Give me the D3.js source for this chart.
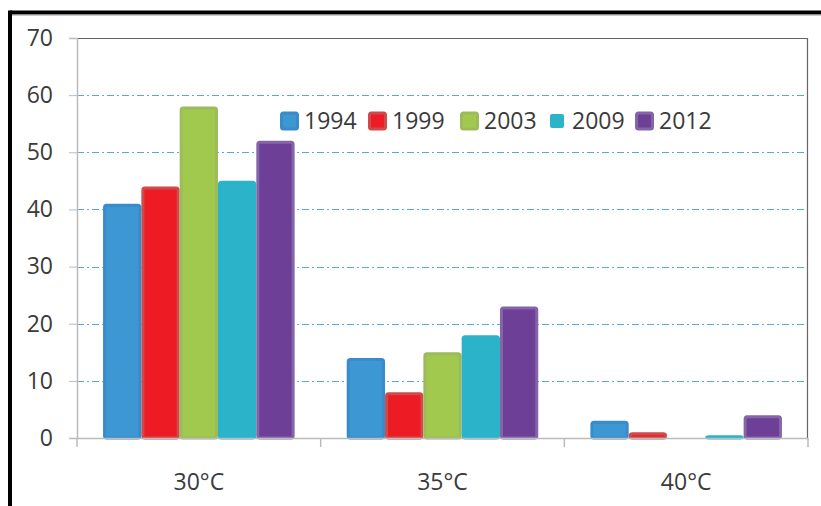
<!DOCTYPE html>
<html>
<head>
<meta charset="utf-8">
<script src="https://cdn.jsdelivr.net/npm/d3@7"></script>
<style>
  body { margin: 0; background: #fff; }
  svg { display: block; }
  svg text { font-family: "Open Sans", sans-serif; }
</style>
</head>
<body>
<div id="chart"></div>
<script>
// data
const categories = ["30°C", "35°C", "40°C"];
const years = ["1994", "1999", "2003", "2009", "2012"];
const values1994 = [41, 14, 3];
const values1999 = [44, 8, 1];
const values2003 = [58, 15, 0];
const values2009 = [45, 18, 0.5];
const values2012 = [52, 23, 4];
const yTicks = [0, 10, 20, 30, 40, 50, 60, 70];

const series = [values1994, values1999, values2003, values2009, values2012];
const fills = ["#3d97d3", "#ed1c24", "#a0c94e", "#2bb3ca", "#6d3f97"];
const strokes = ["#3a8bcc", "#cf4a4a", "#9dbb5a", "#2bb3ca", "#8466a8"];

const W = 821, H = 506;
const margin = { top: 38, right: 13, bottom: 68, left: 77 };
const width = W - margin.left - margin.right;
const height = H - margin.top - margin.bottom;

const svg = d3.select("#chart").append("svg")
  .attr("width", W).attr("height", H);

// outer frame
svg.append("line").attr("x1", 10).attr("x2", W).attr("y1", 12.5).attr("y2", 12.5)
  .attr("stroke", "#000").attr("stroke-width", 4);
svg.append("line").attr("x1", 10).attr("x2", W).attr("y1", 15).attr("y2", 15)
  .attr("stroke", "#999").attr("stroke-width", 1);
svg.append("line").attr("x1", 10).attr("x2", 10).attr("y1", 10.5).attr("y2", H)
  .attr("stroke", "#000").attr("stroke-width", 4);

const g = svg.append("g").attr("transform", `translate(${margin.left},${margin.top})`);

const x0 = d3.scaleBand().domain(categories).range([0, width]).paddingInner(0).paddingOuter(0);
const x1 = d3.scaleBand().domain(years).range([0, x0.bandwidth()]).paddingInner(0).paddingOuter(0.68);
const y = d3.scaleLinear().domain([0, 70]).range([height, 0]);

// grid lines
g.selectAll(".grid").data(yTicks.filter(d => d > 0 && d < 70)).enter()
  .append("line")
  .attr("x1", 0).attr("x2", width)
  .attr("y1", d => Math.round(y(d)) + 0.5).attr("y2", d => Math.round(y(d)) + 0.5)
  .attr("stroke", "#5ba6dc").attr("stroke-width", 1)
  .attr("stroke-dasharray", "7,3,2,3");

// plot border top / right
g.append("path")
  .attr("d", `M0,0.5H${width - 0.5}V${height}`)
  .attr("fill", "none").attr("stroke", "#666").attr("stroke-width", 1.2);

// y axis
const yAxis = g.append("g")
  .call(d3.axisLeft(y).tickValues(yTicks).tickSize(8).tickPadding(16));
yAxis.select(".domain").attr("stroke", "#bbb").attr("stroke-width", 1.5);
yAxis.selectAll(".tick line").attr("stroke", "#bbb");
yAxis.selectAll("text").style("font-size", "23px").style("font-family", "'Open Sans', sans-serif").attr("fill", "#3a3a3a");

// bars
const groups = g.selectAll(".grp").data(categories).enter().append("g")
  .attr("transform", d => `translate(${x0(d)},0)`);

groups.selectAll("rect")
  .data((c, ci) => years.map((yr, si) => ({ yr, si, v: series[si][ci] })))
  .enter().append("rect")
  .filter(d => d.v > 0)
  .attr("x", d => x1(d.yr) + 1.5)
  .attr("y", d => y(d.v) + 1.5)
  .attr("width", x1.bandwidth() - 3)
  .attr("height", d => Math.max(0, height - y(d.v) - 1.5))
  .attr("rx", 2)
  .attr("fill", d => fills[d.si])
  .attr("stroke", d => strokes[d.si])
  .attr("stroke-width", 3);

// x axis
const xAxis = g.append("g").attr("transform", `translate(0,${height})`)
  .call(d3.axisBottom(x0).tickSize(0).tickPadding(36));
xAxis.select(".domain").attr("stroke", "#bbb").attr("stroke-width", 1.5);
xAxis.selectAll("text").style("font-size", "23px").style("font-family", "'Open Sans', sans-serif").attr("fill", "#3a3a3a");
// boundary ticks between categories
xAxis.selectAll(".sep").data([0, x0("35°C"), x0("40°C"), width]).enter()
  .append("line")
  .attr("x1", d => d).attr("x2", d => d).attr("y1", 0).attr("y2", 9)
  .attr("stroke", "#bbb").attr("stroke-width", 1.5);

// legend
const legendX = [203, 291, 383, 471, 558];
const legend = g.selectAll(".lg").data(years).enter().append("g")
  .attr("transform", (d, i) => `translate(${legendX[i]},${83})`);
legend.append("rect")
  .attr("x", (d, i) => i === 3 ? 2 : 1.5).attr("y", (d, i) => i === 3 ? -7 : -8)
  .attr("width", (d, i) => i === 3 ? 14 : 16).attr("height", (d, i) => i === 3 ? 14 : 16)
  .attr("rx", 2)
  .attr("fill", (d, i) => fills[i])
  .attr("stroke", (d, i) => strokes[i])
  .attr("stroke-width", (d, i) => i === 3 ? 0 : 3);
legend.append("text")
  .attr("x", 24).attr("dy", "0.35em")
  .style("font-size", "23px").attr("fill", "#3a3a3a")
  .text(d => d);
</script>
</body>
</html>
